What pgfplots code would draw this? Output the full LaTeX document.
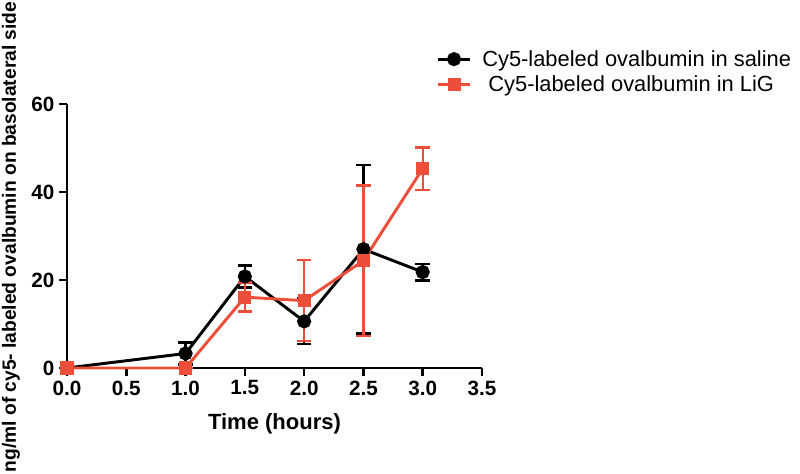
\documentclass[border=0pt]{standalone}
\usepackage{pgfplots}
\pgfplotsset{compat=1.18}
\usepackage{fontspec}
\setmainfont{Liberation Sans}
\definecolor{ored}{RGB}{236,78,58}
\begin{document}
\begin{tikzpicture}
\path[use as bounding box] (0pt,0pt) rectangle (600pt,355.5pt);
\begin{axis}[
  at={(50.25pt,79.5pt)}, anchor=origin,
  scale only axis, width=311.25pt, height=198pt,
  xmin=0, xmax=3.5, ymin=0, ymax=60,
  axis x line*=bottom, axis y line*=left,
  axis line style={line width=2.2pt, -},
  xtick={0,0.5,...,3.5}, ytick={0,20,40,60},
  tick align=outside, major tick length=6pt,
  every tick/.style={line width=2pt, black},
  /pgf/number format/assume math mode=true,
  xticklabel style={/pgf/number format/.cd, fixed, fixed zerofill, precision=1},
  tick label style={font=\bfseries\fontsize{15.5}{17}\selectfont},
  xlabel={\bfseries Time (hours)},
  xlabel style={font=\bfseries\fontsize{16.5}{18}\selectfont, yshift=-7pt},
  clip=false,
  legend style={at={(axis description cs:0.88,1.225)}, anchor=north west, draw=none, fill=none,
    font=\fontsize{16.4}{19}\selectfont, row sep=1.5pt, legend cell align=left},
  legend image code/.code={\draw[#1, line width=2.2pt] (0cm,0cm) -- (0.85cm,0cm); \draw[#1, mark repeat=1] plot coordinates {(0.425cm,0cm)};},
]
\addplot[black, line width=2.2pt, mark=*, mark size=4.2pt,
  error bars/.cd, y dir=both, y explicit,
  error bar style={line width=1.8pt, black},
  error mark options={rotate=90, mark size=5.5pt, line width=1.8pt, black}]
coordinates {
 (0,0) +- (0,0)
 (1.0,3.3) +- (0,2.5)
 (1.5,20.8) +- (0,2.5)
 (2.0,10.6) +- (0,5.2)
 (2.5,27.0) +- (0,19.2)
 (3.0,21.8) +- (0,1.9)
};
\addlegendentry{\hspace{6pt}Cy5-labeled ovalbumin in saline}
\addplot[ored, line width=2.2pt, mark=square*, mark size=3.8pt,
  error bars/.cd, y dir=both, y explicit,
  error bar style={line width=1.8pt, ored},
  error mark options={rotate=90, mark size=5.5pt, line width=1.8pt, ored}]
coordinates {
 (0,0) +- (0,0)
 (1.0,0) +- (0,0)
 (1.5,16.1) +- (0,3.3)
 (2.0,15.3) +- (0,9.2)
 (2.5,24.4) +- (0,17.1)
 (3.0,45.3) +- (0,4.8)
};
\addlegendentry{\hspace{6pt} Cy5-labeled ovalbumin in LiG}
\end{axis}
\node[rotate=90, font=\bfseries\fontsize{14.4}{16}\selectfont] at (8.25pt,177.75pt) {ng/ml of cy5- labeled ovalbumin on basolateral side};
\end{tikzpicture}
\end{document}
